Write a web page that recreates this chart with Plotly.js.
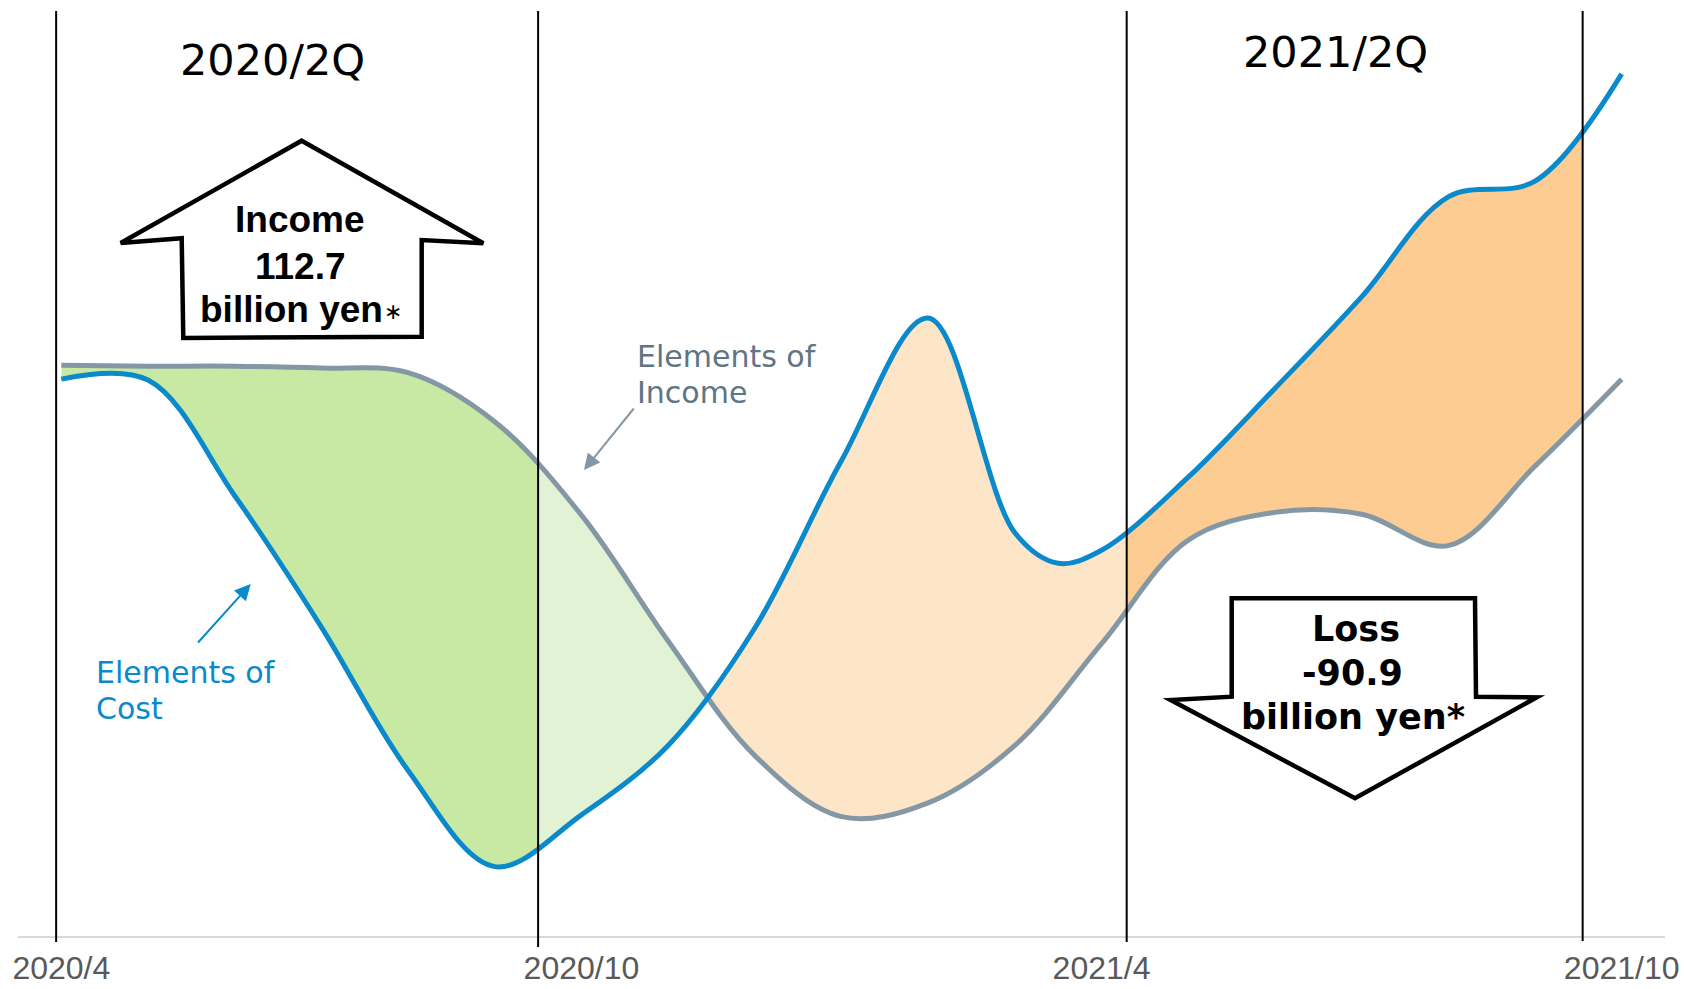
<!DOCTYPE html>
<html><head><meta charset="utf-8">
<script src="https://cdn.plot.ly/plotly-3.0.1.min.js"></script>
<style>html,body{margin:0;padding:0;background:#fff}#chart{width:1684px;height:989px}</style>
</head><body><div id="chart"></div>
<script>
// ---------- data ----------
const months = ['2020/4','2020/5','2020/6','2020/7','2020/8','2020/9','2020/10','2020/11','2020/12',
                '2021/1','2021/2','2021/3','2021/4','2021/5','2021/6','2021/7','2021/8','2021/9','2021/10'];
// x positions are month indexes into `months` (0 = 2020/4); one extra reading at 11.5 on the cost curve
const costX        = [0, 1, 2, 3, 4, 5, 6, 7, 8, 9, 10, 11, 11.5, 12, 13, 14, 15, 16, 17, 18];
const costValues   = [60.2, 60.1, 47.6, 33.4, 17.9, 7.5, 13.1, 20.6, 33.3, 51.4, 66.8, 43.6, 40.3, 41.7, 49.6, 59.2, 69.1, 79.9, 81.6, 93.2];
const incomeX      = [0, 1, 2, 3, 4, 5, 6, 7, 8, 9, 10, 11, 12, 13, 14, 15, 16, 17, 18];
const incomeValues = [61.7, 61.6, 61.6, 61.4, 60.9, 55.6, 45.5, 31.9, 19.5, 12.9, 14.4, 20.6, 31.6, 42.8, 45.8, 45.6, 42.2, 50.8, 60.2];
const tickPositions = [0, 6, 12, 18];
const tickLabels = ['2020/4','2020/10','2021/4','2021/10'];
const quarterLines = [-0.06, 5.5, 12.29, 17.55];      // separators, in month-index units
const quarterLabels = ['2020/2Q', '2021/2Q'];
const crossingPoint = 7.44;                            // where the two curves cross
const fillColors = ['#c7e9a4', '#e2f3d5', '#fde5c8', '#fccc92'];
const costName = ['Elements of', 'Cost'];
const incomeName = ['Elements of', 'Income'];
const incomeBox = ['Income', '112.7', 'billion yen'];
const lossBox = ['Loss', '-90.9', 'billion yen*'];

// ---------- styles / geometry ----------
const W = 1684, H = 989;
const M = {l: 18, r: 19, t: 11, b: 53};
const fx = px => (px - M.l) / (W - M.l - M.r);
const fy = py => (H - M.b - py) / (H - M.t - M.b);
const BLUE = '#0a89cb', GRAY = '#8497a4', GRAYTXT = '#607584';
const N = months.length;
const XMIN = -0.5, XMAX = N - 0.5;

const segments = [
  [XMIN, quarterLines[1]],
  [quarterLines[1], crossingPoint],
  [crossingPoint, quarterLines[2]],
  [quarterLines[2], quarterLines[3]]
];

const traces = [];
const layout = {
  width: W, height: H, margin: M, showlegend: false,
  paper_bgcolor: '#fff', plot_bgcolor: 'rgba(0,0,0,0)',
  yaxis: {range: [0, 100], visible: false, fixedrange: true},
  shapes: [], annotations: []
};
const spl = {shape: 'spline', smoothing: 1, simplify: false};

// each coloured band lives on its own x-axis, clipped to its own domain (same scale as the main axis)
segments.forEach((seg, i) => {
  const ax = i === 0 ? 'x' : 'x' + (i + 1);
  const key = i === 0 ? 'xaxis' : 'xaxis' + (i + 1);
  layout[key] = {
    range: seg, domain: [(seg[0] - XMIN) / (XMAX - XMIN), (seg[1] - XMIN) / (XMAX - XMIN)],
    visible: false, fixedrange: true, anchor: 'y'
  };
  traces.push({x: incomeX, y: incomeValues, xaxis: ax, yaxis: 'y', mode: 'lines',
    line: Object.assign({width: 0, color: 'rgba(0,0,0,0)'}, spl), hoverinfo: 'skip'});
  traces.push({x: costX, y: costValues, xaxis: ax, yaxis: 'y', mode: 'lines', fill: 'tonexty',
    fillcolor: fillColors[i],
    line: Object.assign({width: 0, color: 'rgba(0,0,0,0)'}, spl), hoverinfo: 'skip'});
});

layout.xaxis5 = {
  range: [XMIN, XMAX], domain: [0, 1], anchor: 'y',
  tickvals: tickPositions, ticktext: tickLabels, ticks: '',
  showline: true, linecolor: '#d9d9d9', linewidth: 2,
  showgrid: false, zeroline: false, fixedrange: true,
  tickfont: {family: 'Liberation Sans, Arial, sans-serif', size: 32, color: '#595959'},
  ticklabelstandoff: 3
};
traces.push({x: incomeX, y: incomeValues, xaxis: 'x5', yaxis: 'y', mode: 'lines',
  line: Object.assign({width: 5, color: GRAY}, spl), hoverinfo: 'skip'});
traces.push({x: costX, y: costValues, xaxis: 'x5', yaxis: 'y', mode: 'lines',
  line: Object.assign({width: 5, color: BLUE}, spl), hoverinfo: 'skip'});

// separators
const lineBottoms = [942, 947, 942, 941];
quarterLines.forEach((q, i) => {
  layout.shapes.push({type: 'line', xref: 'x5', yref: 'paper', x0: q, x1: q,
    y0: fy(lineBottoms[i]), y1: 1, line: {color: '#000', width: 2}, layer: 'above'});
});

// block arrows (decoration, pixel layout positions)
function pathFromPx(pts) {
  return 'M' + pts.map(p => fx(p[0]).toFixed(5) + ',' + fy(p[1]).toFixed(5)).join('L') + 'Z';
}
const upArrow = [[301.7,140.7],[483.3,243.3],[421.7,240],[421.7,336.7],[183.3,338],[181.7,238.3],[120.7,243]];
const downArrow = [[1231.7,598.3],[1475,598.3],[1476,696.7],[1536.7,697.3],[1355,798.3],[1170.7,700],[1231.7,696.7]];
[upArrow, downArrow].forEach(a => layout.shapes.push({type: 'path', xref: 'paper', yref: 'paper',
  path: pathFromPx(a), fillcolor: '#fff', line: {color: '#000', width: 4.5}, layer: 'above'}));

function txt(text, px, py, font, xanchor) {
  layout.annotations.push({text: text, xref: 'paper', yref: 'paper', x: fx(px), y: fy(py),
    xanchor: xanchor || 'center', yanchor: 'middle', showarrow: false, font: font});
}
const qFont = {family: 'DejaVu Sans', size: 43, color: '#000'};
txt(quarterLabels[0], 272.5, 60, qFont);
txt(quarterLabels[1], 1335, 52, qFont);

const upFont = {family: 'Liberation Sans, Arial', size: 37, color: '#000', weight: 'bold'};
txt(incomeBox[0], 300, 219, upFont);
txt(incomeBox[1], 300.5, 266, upFont);
txt(incomeBox[2], 291, 309, upFont);
txt('\u2217', 392.5, 311, {family: 'DejaVu Sans', size: 22, color: '#000'});

const dnFont = {family: 'DejaVu Sans', size: 35, color: '#000', weight: 'bold'};
txt(lossBox[0], 1355.8, 629, dnFont);
txt(lossBox[1], 1352.5, 672.5, dnFont);
txt(lossBox[2], 1352.5, 716.5, dnFont);

const gFont = {family: 'DejaVu Sans', size: 30, color: GRAYTXT};
txt(incomeName[0], 635, 357, gFont, 'left');
txt(incomeName[1], 635, 392, gFont, 'left');
const bFont = {family: 'DejaVu Sans', size: 30, color: BLUE};
txt(costName[0], 94, 672, bFont, 'left');
txt(costName[1], 94, 708, bFont, 'left');

function pointer(tip, tail, color) {
  layout.annotations.push({text: '', xref: 'paper', yref: 'paper', x: fx(tip[0]), y: fy(tip[1]),
    ax: tail[0] - tip[0], ay: tail[1] - tip[1], showarrow: true, arrowhead: 2, arrowsize: 1.6,
    arrowwidth: 2, arrowcolor: color});
}
pointer([584, 470], [635, 407], GRAY);
pointer([250.7, 584], [196.7, 644], BLUE);

Plotly.newPlot('chart', traces, layout, {displayModeBar: false, staticPlot: true});
</script></body></html>
